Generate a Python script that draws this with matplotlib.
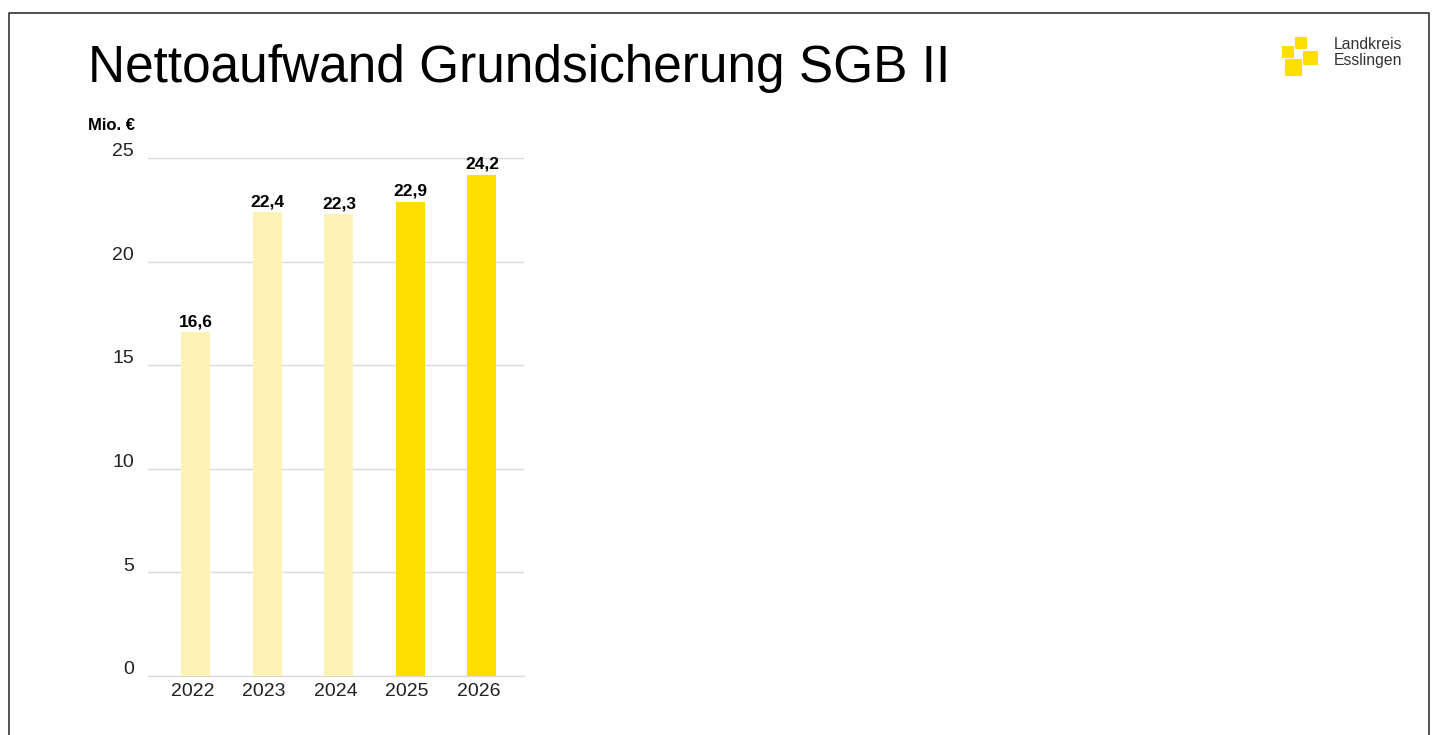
import matplotlib.pyplot as plt
from matplotlib.patches import Rectangle
from matplotlib.lines import Line2D
import matplotlib.transforms as mtransforms

plt.rcParams['font.family'] = ['Liberation Sans', 'DejaVu Sans']

# Data
years = ['2022', '2023', '2024', '2025', '2026']
values = [16.6, 22.4, 22.3, 22.9, 24.2]
labels = ['16,6', '22,4', '22,3', '22,9', '24,2']
colors = ['#FFF2B5', '#FFF2B5', '#FFF2B5', '#FFDE00', '#FFDE00']

W, H = 1433, 735
fig = plt.figure(figsize=(W / 100, H / 100), dpi=100)

def px(x0, y0, x1, y1):
    # pixel box (top-left origin) -> figure fraction [l, b, w, h]
    return [x0 / W, 1 - y1 / H, (x1 - x0) / W, (y1 - y0) / H]

ax = fig.add_axes(px(148, 158, 524, 676))
x = list(range(len(years)))
ax.bar(x, values, width=0.405, color=colors, zorder=3)
ax.set_xlim(-0.671, 4.588)
ax.set_ylim(0, 25)
ax.set_yticks([0, 5, 10, 15, 20, 25])
ax.set_xticks(x)
ax.set_xticklabels(years, fontsize=14, color='#222222')
ax.tick_params(axis='both', length=0)
ax.tick_params(axis='x', pad=5)
ax.tick_params(axis='y', pad=10, labelsize=14, labelcolor='#222222')
ax.grid(axis='y', color='#D9D9D9', linewidth=1, zorder=0)
for s in ['top', 'right', 'left']:
    ax.spines[s].set_visible(False)
ax.spines['bottom'].set_color('#D9D9D9')

yoff = mtransforms.ScaledTranslation(0, 6 / 72, fig.dpi_scale_trans)
for lab in ax.get_yticklabels():
    lab.set_transform(lab.get_transform() + yoff)
xoff = mtransforms.ScaledTranslation(-2.5 / 72, 0, fig.dpi_scale_trans)
for lab in ax.get_xticklabels():
    lab.set_transform(lab.get_transform() + xoff)

for xi, v, t in zip(x, values, labels):
    ax.annotate(t, (xi, v), xytext=(0, 2), textcoords='offset points',
                ha='center', va='bottom', fontsize=12.5, fontweight='bold')

# Title and unit
fig.text(88 / W, 1 - 82 / H, 'Nettoaufwand Grundsicherung SGB II',
         fontsize=37, va='baseline', ha='left', color='black')
fig.text(88 / W, 1 - 125 / H, 'Mio. €', fontsize=12, fontweight='bold',
         va='center', ha='left')

# Logo
for (x0, y0, x1, y1) in [(1295, 37, 1307, 49), (1282, 46, 1294, 58),
                         (1303, 51, 1318, 65), (1285, 59, 1302, 76)]:
    l, b, w, h = px(x0, y0, x1, y1)
    fig.add_artist(Rectangle((l, b), w, h, transform=fig.transFigure,
                             facecolor='#FFDE00', edgecolor='none'))
fig.text(1334 / W, 1 - 44.5 / H, 'Landkreis', fontsize=11.3, color='#333333',
         va='center', ha='left')
fig.text(1334 / W, 1 - 60.5 / H, 'Esslingen', fontsize=11.3, color='#333333',
         va='center', ha='left')

# Slide border
bx = [9 / W, 9 / W, 1429 / W, 1429 / W]
by = [0, 1 - 13 / H, 1 - 13 / H, 0]
fig.add_artist(Line2D(bx, by, transform=fig.transFigure, color='#333333',
                      linewidth=1.2))

fig.savefig('out.png', dpi=100)
